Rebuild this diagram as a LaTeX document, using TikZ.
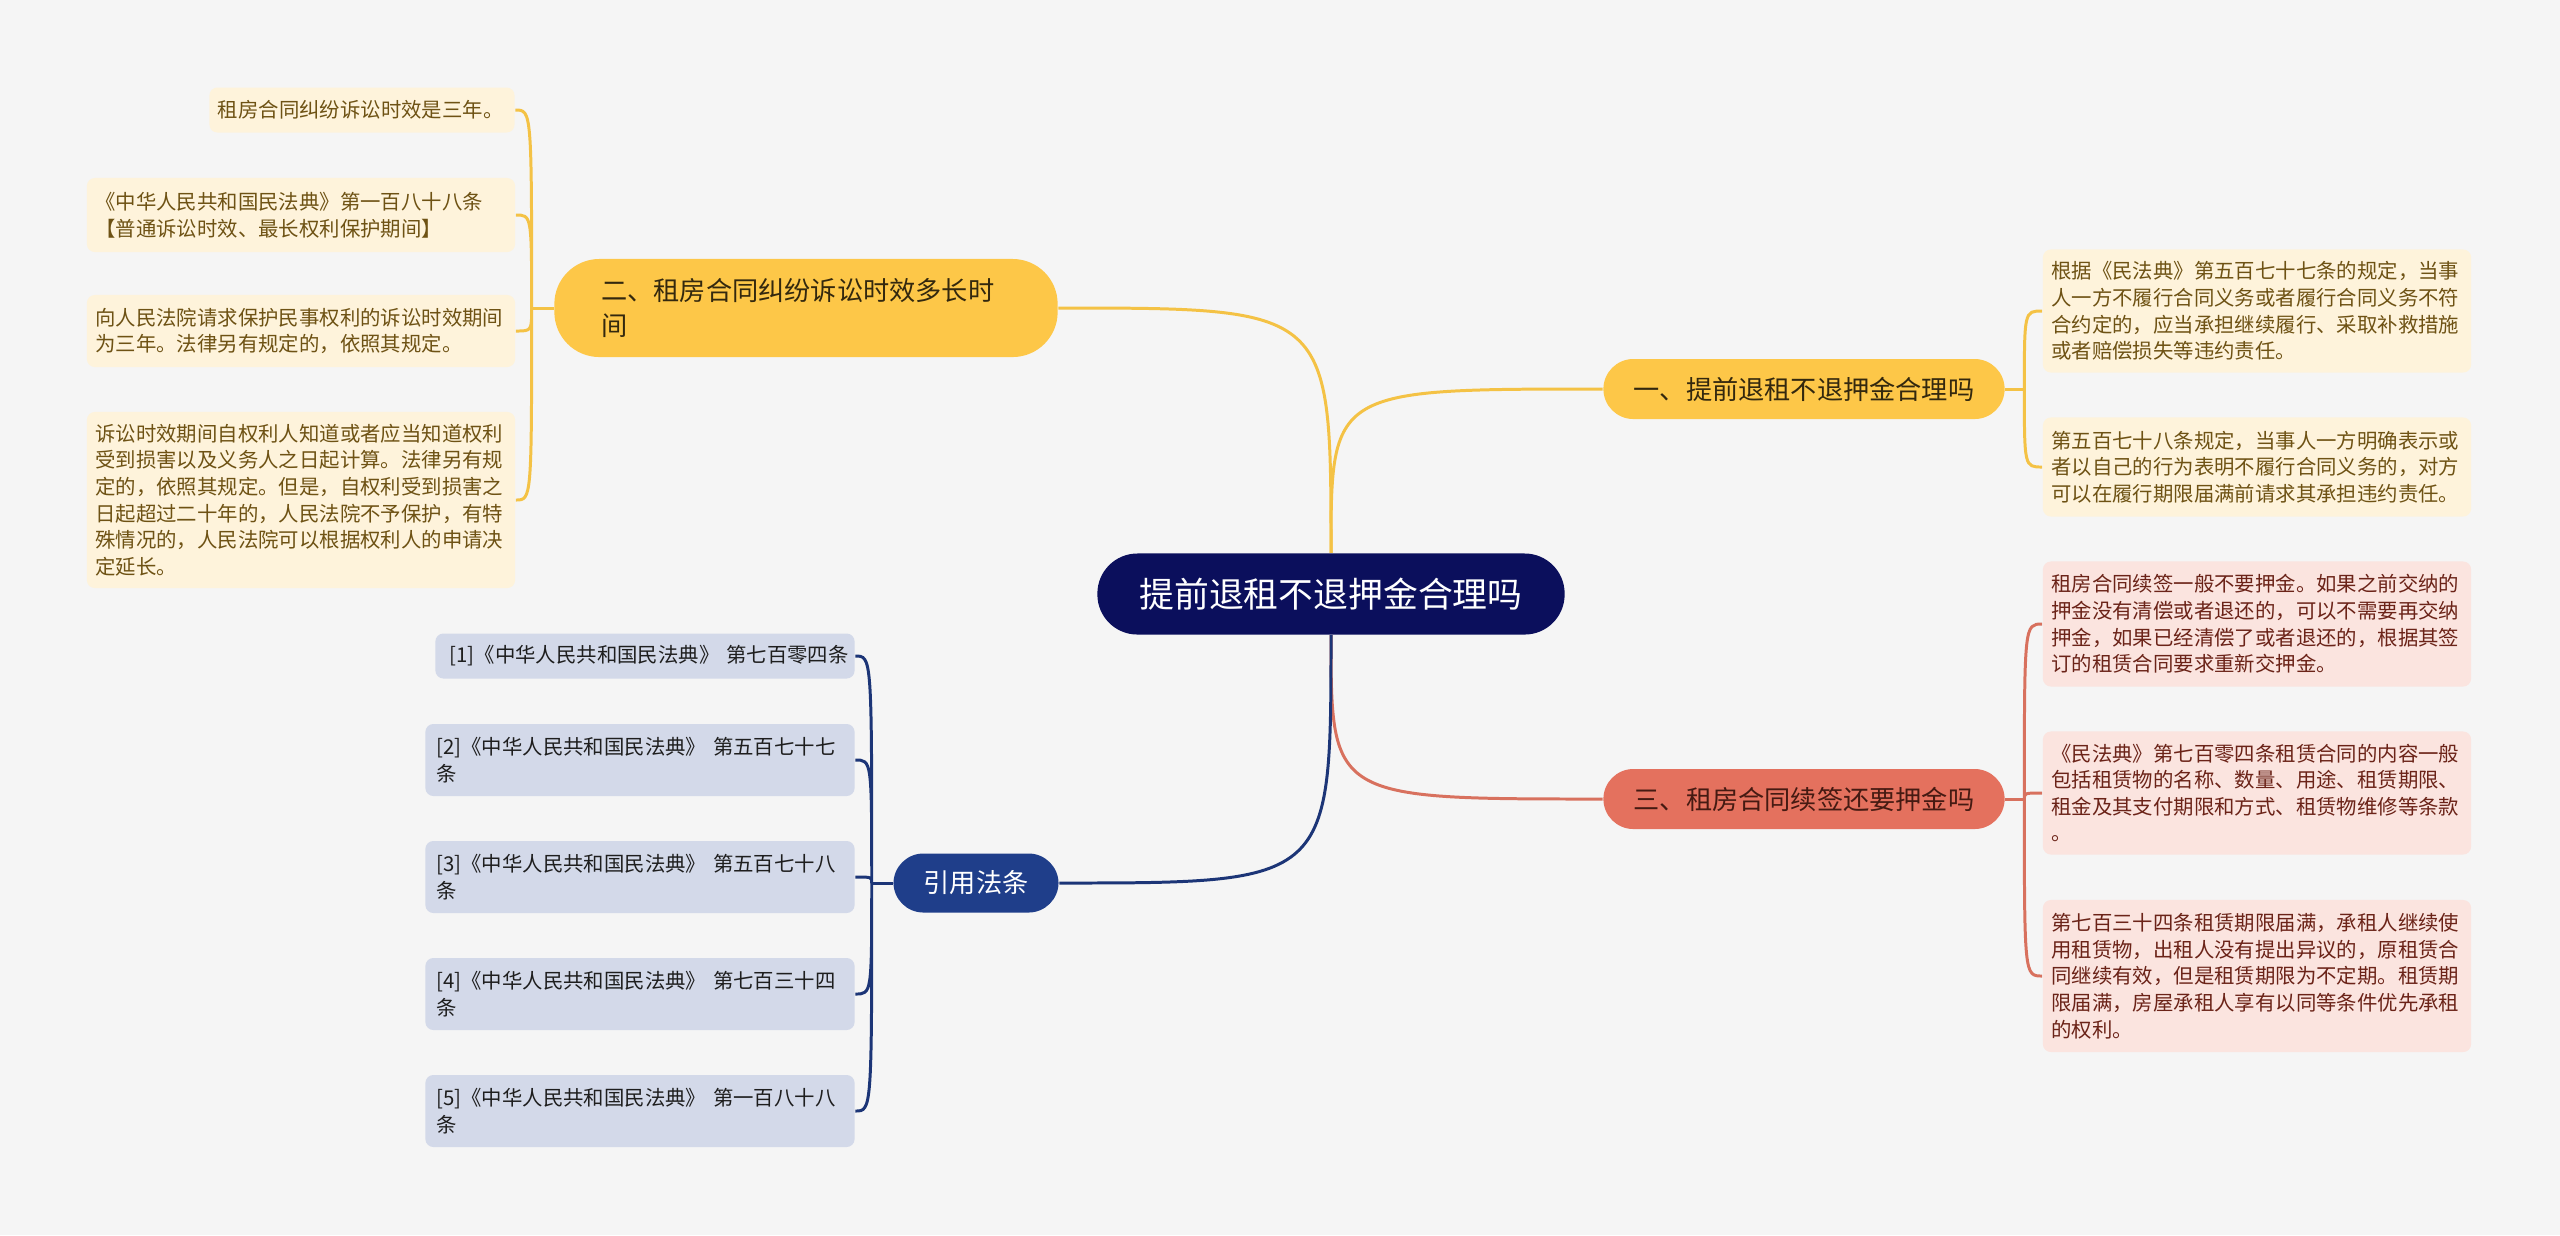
\documentclass[tikz,border=0pt]{standalone}
\usepackage{fontspec}
\setmainfont{Noto Sans CJK SC}
\usepackage{tikz}
\usetikzlibrary{backgrounds}
\definecolor{canvas}{HTML}{F5F5F5}
\definecolor{rootnavy}{HTML}{0B0F5C}
\definecolor{ymain}{HTML}{FDC748}
\definecolor{yline}{HTML}{F4C245}
\definecolor{ynote}{HTML}{FEF3DB}
\definecolor{ytext}{HTML}{6E5214}
\definecolor{ydark}{HTML}{33280E}
\definecolor{rmain}{HTML}{E4715E}
\definecolor{rline}{HTML}{D8715E}
\definecolor{rnote}{HTML}{FBE4DF}
\definecolor{rtext}{HTML}{6B2318}
\definecolor{rdark}{HTML}{451A12}
\definecolor{bmain}{HTML}{1F3E8A}
\definecolor{bline}{HTML}{1C3577}
\definecolor{bnote}{HTML}{D3D9E9}
\definecolor{btext}{HTML}{1E1E1E}

\begin{document}
\begin{tikzpicture}[x=0.01cm,y=-0.01cm,
 rootbox/.style={fill=rootnavy,text=white,rounded corners=0.4cm,minimum width=4.67cm,minimum height=0.81cm,font=\fontsize{9.9}{12}\selectfont},
 topic/.style={rounded corners=0.3cm,minimum width=4.01cm,minimum height=0.6cm,inner sep=0pt,font=\fontsize{7.45}{9.9}\selectfont},
 note/.style={rounded corners=0.08cm,align=left,text width=4.11cm,inner xsep=0.085cm,inner ysep=0pt,font=\fontsize{5.8}{7.57}\selectfont},
 ynotebox/.style={note,fill=ynote,text=ytext},
 rnotebox/.style={note,fill=rnote,text=rtext},
 refbox/.style={note,fill=bnote,text=btext,text width=4.07cm,inner xsep=0.11cm,minimum height=0.72cm},
 link/.style={to path={.. controls (\tikztostart |- \tikztotarget) .. (\tikztotarget)}},
 ylink/.style={link,draw=yline,line width=0.85pt},
 rlink/.style={link,draw=rline,line width=0.85pt},
 blink/.style={link,draw=bline,line width=0.85pt}]
\useasboundingbox (0,0) rectangle (2560,1235);
\node[rootbox] (root) at (1331,594) {提前退租不退押金合理吗};
\node[topic,fill=ymain,text=ydark] (t1) at (1804,389) {一、提前退租不退押金合理吗};
\node[topic,fill=ymain,text=ydark,align=left,text width=4.09cm,inner xsep=0.47cm,minimum width=5.03cm,minimum height=0.98cm,rounded corners=0.45cm] (t2) at (806,308) {二、租房合同纠纷诉讼时效多长时\\间};
\node[topic,fill=rmain,text=rdark] (t3) at (1804,799) {三、租房合同续签还要押金吗};
\node[topic,fill=bmain,text=white,minimum width=1.65cm,minimum height=0.59cm] (t4) at (976,883) {引用法条};
\node[ynotebox,text width=2.88cm,minimum height=0.45cm] (l1) at (362,110) {租房合同纠纷诉讼时效是三年。};
\node[ynotebox,minimum height=0.74cm] (l2) at (301,215) {《中华人民共和国民法典》第一百八十八条\\【普通诉讼时效、最长权利保护期间】};
\node[ynotebox,minimum height=0.72cm] (l3) at (301,331) {向人民法院请求保护民事权利的诉讼时效期间\\为三年。法律另有规定的，依照其规定。};
\node[ynotebox,minimum height=1.76cm] (l4) at (301,500) {诉讼时效期间自权利人知道或者应当知道权利\\受到损害以及义务人之日起计算。法律另有规\\定的，依照其规定。但是，自权利受到损害之\\日起超过二十年的，人民法院不予保护，有特\\殊情况的，人民法院可以根据权利人的申请决\\定延长。};
\node[ynotebox,minimum height=1.23cm] (a1) at (2257,311) {根据《民法典》第五百七十七条的规定，当事\\人一方不履行合同义务或者履行合同义务不符\\合约定的，应当承担继续履行、采取补救措施\\或者赔偿损失等违约责任。};
\node[ynotebox,minimum height=0.99cm] (a2) at (2257,467) {第五百七十八条规定，当事人一方明确表示或\\者以自己的行为表明不履行合同义务的，对方\\可以在履行期限届满前请求其承担违约责任。};
\node[rnotebox,minimum height=1.25cm] (b1) at (2257,624) {租房合同续签一般不要押金。如果之前交纳的\\押金没有清偿或者退还的，可以不需要再交纳\\押金，如果已经清偿了或者退还的，根据其签\\订的租赁合同要求重新交押金。};
\node[rnotebox,minimum height=1.23cm] (b2) at (2257,793) {《民法典》第七百零四条租赁合同的内容一般\\包括租赁物的名称、数量、用途、租赁期限、\\租金及其支付期限和方式、租赁物维修等条款\\。};
\node[rnotebox,minimum height=1.52cm] (b3) at (2257,976) {第七百三十四条租赁期限届满，承租人继续使\\用租赁物，出租人没有提出异议的，原租赁合\\同继续有效，但是租赁期限为不定期。租赁期\\限届满，房屋承租人享有以同等条件优先承租\\的权利。};
\node[refbox,inner xsep=0.06cm,minimum height=0.45cm,align=right] (r1) at (645,656) {[1]《中华人民共和国民法典》 第七百零四条};
\node[refbox] (r2) at (640,760) {[2]《中华人民共和国民法典》 第五百七十七\\条};
\node[refbox] (r3) at (640,877) {[3]《中华人民共和国民法典》 第五百七十八\\条};
\node[refbox] (r4) at (640,994) {[4]《中华人民共和国民法典》 第七百三十四\\条};
\node[refbox] (r5) at (640,1111) {[5]《中华人民共和国民法典》 第一百八十八\\条};
\coordinate (j1) at ([xshift=0.19cm]t1.east);
\coordinate (j2) at ([xshift=-0.22cm]t2.west);
\coordinate (j3) at ([xshift=0.19cm]t3.east);
\coordinate (j4) at ([xshift=-0.21cm]t4.west);
\begin{scope}[on background layer]
\fill[canvas] (0,0) rectangle (2560,1235);
\draw[ylink] (root) to (t1.west);
\draw[ylink] (root) to (t2.east);
\draw[rlink] (root) to (t3.west);
\draw[blink] (root) to (t4.east);
\draw[ylink] (t1.east) -- (j1);
\draw[ylink] (j1) to (a1.west) (j1) to (a2.west);
\draw[ylink] (t2.west) -- (j2);
\draw[ylink] (j2) to (l1.east) (j2) to (l2.east) (j2) to (l3.east) (j2) to (l4.east);
\draw[rlink] (t3.east) -- (j3);
\draw[rlink] (j3) to (b1.west) (j3) to (b2.west) (j3) to (b3.west);
\draw[blink] (t4.west) -- (j4);
\draw[blink] (j4) to (r1.east) (j4) to (r2.east) (j4) to (r3.east) (j4) to (r4.east) (j4) to (r5.east);
\end{scope}
\end{tikzpicture}
\end{document}
